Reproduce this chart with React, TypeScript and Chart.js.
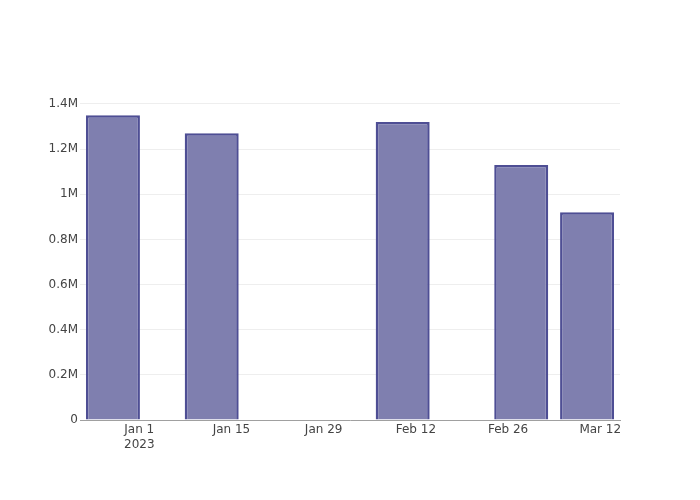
import React, { useEffect, useRef } from "react";
import { Chart, registerables } from "chart.js";

Chart.register(...registerables);

// Data
const barDates = ["2022-12-28", "2023-01-12", "2023-02-10", "2023-02-28", "2023-03-10"];
const barValues = [1350000, 1270000, 1320000, 1130000, 920000];
const xTickDates = ["2023-01-01", "2023-01-15", "2023-01-29", "2023-02-12", "2023-02-26", "2023-03-12"];
const xTickLabels: (string | string[])[] = [["Jan 1", "2023"], "Jan 15", "Jan 29", "Feb 12", "Feb 26", "Mar 12"];
const yTickValues = [0, 200000, 400000, 600000, 800000, 1000000, 1200000, 1400000];
const yTickLabels = ["0", "0.2M", "0.4M", "0.6M", "0.8M", "1M", "1.2M", "1.4M"];
const xRange = ["2022-12-23", "2023-03-15"];
const yMax = 1417500;

const DAY = 86400000;
const origin = Date.UTC(2023, 0, 1);
const toDay = (s: string) => {
  const [y, m, d] = s.split("-").map(Number);
  return (Date.UTC(y, m - 1, d) - origin) / DAY;
};

const FONT = "'DejaVu Sans', sans-serif";

export default function App() {
  const ref = useRef<HTMLCanvasElement | null>(null);
  useEffect(() => {
    if (!ref.current) return;
    const xTicks = xTickDates.map(toDay);
    const chart = new Chart(ref.current, {
      type: "bar",
      data: {
        datasets: [
          {
            data: barDates.map((d, i) => ({ x: toDay(d), y: barValues[i] })),
            backgroundColor: "rgb(127,127,175)",
            borderColor: "rgb(78,78,148)",
            borderWidth: 2.5,
            categoryPercentage: 0.82,
            barPercentage: 1,
          },
        ],
      },
      options: {
        animation: false,
        responsive: false,
        maintainAspectRatio: false,
        layout: { padding: { left: 0, right: 80, top: 100, bottom: 0 } },
        plugins: { legend: { display: false }, tooltip: { enabled: false } },
        scales: {
          x: {
            type: "linear",
            offset: false,
            min: toDay(xRange[0]),
            max: toDay(xRange[1]),
            grid: { display: false, drawTicks: false },
            border: { display: true, color: "#a0a0a0", width: 1 },
            afterBuildTicks: (scale: any) => {
              scale.ticks = xTicks.map((v) => ({ value: v }));
            },
            afterFit: (scale: any) => {
              scale.height = 80;
            },
            ticks: {
              autoSkip: false,
              maxRotation: 0,
              padding: 2,
              color: "#444",
              font: { family: FONT, size: 12, lineHeight: 1.25 },
              callback: (v: any) => {
                const i = xTicks.indexOf(Number(v));
                return i >= 0 ? xTickLabels[i] : "";
              },
            },
          },
          y: {
            min: 0,
            max: yMax,
            grid: { color: "#eeeeee", drawTicks: false },
            border: { display: false },
            afterBuildTicks: (scale: any) => {
              scale.ticks = yTickValues.map((v) => ({ value: v }));
            },
            afterFit: (scale: any) => {
              scale.width = 80;
            },
            ticks: {
              padding: 2,
              color: "#444",
              font: { family: FONT, size: 12 },
              callback: (v: any) => {
                const i = yTickValues.indexOf(Number(v));
                return i >= 0 ? yTickLabels[i] : "";
              },
            },
          },
        },
      },
    });
    return () => chart.destroy();
  }, []);
  return (
    <div style={{ position: "fixed", left: 0, top: 0, width: 700, height: 500, background: "#fff" }}>
      <canvas ref={ref} width={700} height={500} style={{ width: 700, height: 500 }} />
    </div>
  );
}
